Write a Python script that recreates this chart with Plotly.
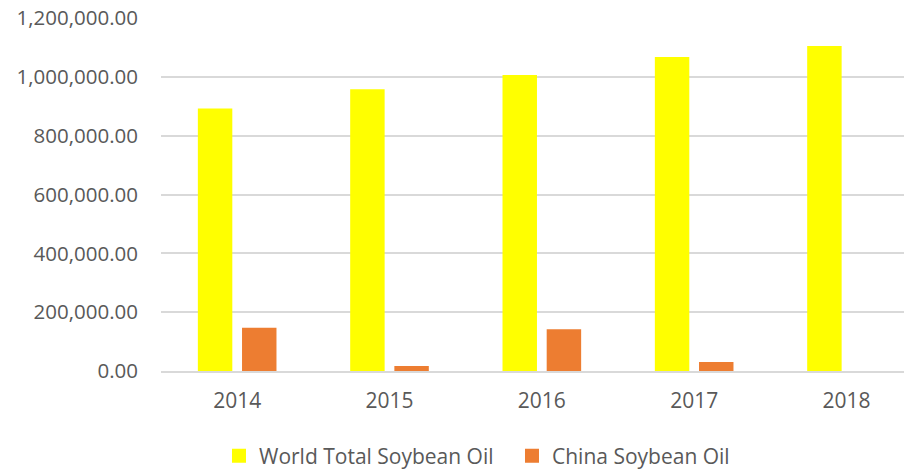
import plotly.graph_objects as go

years = ["2014", "2015", "2016", "2017", "2018"]
world_total = [892500, 958000, 1006800, 1067800, 1105500]
china = [146800, 17000, 142000, 30500, 0]
series_names = ["World Total Soybean Oil", "China Soybean Oil"]
series_colors = ["#FFFF00", "#ED7D31"]
y_ticks = [0, 200000, 400000, 600000, 800000, 1000000, 1200000]

font_family = "Open Sans"
text_color = "#595959"

fig = go.Figure()
for vals, name, color in zip([world_total, china], series_names, series_colors):
    fig.add_trace(go.Bar(x=years, y=vals, name=name, showlegend=False,
                         marker=dict(color=color, line=dict(width=0))))
# legend entries with larger square swatches
for name, color in zip(series_names, series_colors):
    fig.add_trace(go.Scatter(x=[None], y=[None], mode="markers", name=name,
                             marker=dict(symbol="square", size=14, color=color)))

# page body has an 8px margin; the figure is sized to fit the 912x470 window
fig.update_layout(
    width=904, height=462,
    margin=dict(l=153, r=0, t=10, b=99, autoexpand=False),
    paper_bgcolor="white", plot_bgcolor="white",
    barmode="group", bargap=0.42, bargroupgap=0.22,
    font=dict(family=font_family, color=text_color, size=20),
    showlegend=True,
    legend=dict(orientation="h", xref="container", yref="container",
                x=0.2334, xanchor="left", y=0.03, yanchor="middle",
                font=dict(size=21, color=text_color), itemwidth=30,
                entrywidth=248, entrywidthmode="pixels",
                bgcolor="rgba(0,0,0,0)"),
    xaxis=dict(type="category", range=[-0.5, 4.43], showgrid=False, automargin=False,
               showline=True, linecolor="#d9d9d9", linewidth=1.5,
               ticks="", ticklabelstandoff=10,
               tickfont=dict(size=21, color=text_color)),
    yaxis=dict(range=[0, 1200500], tickvals=y_ticks,
               tickformat=",.2f", automargin=False, ticklabeloverflow="allow",
               showgrid=True, gridcolor="#d9d9d9", gridwidth=1.5,
               zeroline=False, showline=False, ticks="",
               ticklabelstandoff=22,
               tickfont=dict(size=20.5, color=text_color)),
)

fig.write_html("out.html")
